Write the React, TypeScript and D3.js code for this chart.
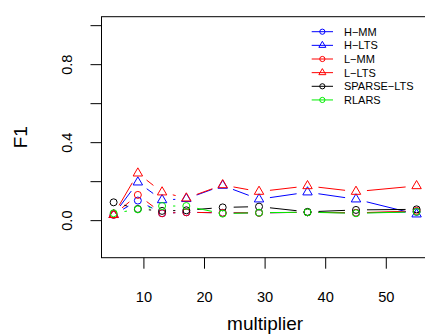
import React from "react";
import * as d3 from "d3";

const multipliers = [5, 9, 13, 17, 23, 29, 37, 45, 55];
const seriesNames = ["H-MM", "H-LTS", "L-MM", "L-LTS", "SPARSE-LTS", "RLARS"];
const seriesColors = ["#0000FF", "#0000FF", "#FF0000", "#FF0000", "#000000", "#00EE00"];
const seriesShapes = ["circle", "triangle", "circle", "triangle", "circle", "circle"];
const hMM = [0.03, 0.103, 0.038, 0.043, 0.04, 0.04, 0.043, 0.04, 0.045];
const hLTS = [0.03, 0.197, 0.106, 0.112, 0.18, 0.11, 0.146, 0.11, 0.033];
const lMM = [0.03, 0.132, 0.038, 0.043, 0.04, 0.04, 0.043, 0.04, 0.05];
const lLTS = [0.03, 0.243, 0.146, 0.115, 0.183, 0.149, 0.178, 0.149, 0.178];
const sparseLTS = [0.094, 0.06, 0.05, 0.053, 0.068, 0.072, 0.045, 0.055, 0.058];
const rlars = [0.038, 0.058, 0.075, 0.075, 0.036, 0.041, 0.043, 0.038, 0.045];
const seriesValues = [hMM, hLTS, lMM, lLTS, sparseLTS, rlars];

const xTicks = [10, 20, 30, 40, 50];
const yTicks = [0, 0.2, 0.4, 0.6, 0.8, 1.0];
const yTickLabels = [
  { v: 0, t: "0.0" },
  { v: 0.4, t: "0.4" },
  { v: 0.8, t: "0.8" },
];

const FONT = "'Liberation Sans', Arial, Helvetica, sans-serif";

const W = 425;
const H = 335;
const left = 101.5;
const right = 428.7;
const top = 16.7;
const bottom = 257.7;

const x = d3.scaleLinear().domain([3, 57]).range([left, right]);
const y = d3.scaleLinear().domain([-0.19, 1.046]).range([bottom, top]);

const R = 3.5;
const GAP = 11;

function Marker({ shape, cx, cy, r, color }: any) {
  if (shape === "circle") {
    return <circle cx={cx} cy={cy} r={r} fill="none" stroke={color} strokeWidth={1} />;
  }
  const tr = r * 1.555;
  const hw = r * 1.347;
  const yc = r * 0.7776;
  const pts = `${cx},${cy - tr} ${cx + hw},${cy + yc} ${cx - hw},${cy + yc}`;
  return <polygon points={pts} fill="none" stroke={color} strokeWidth={1} />;
}

function gappedSegments(vals: number[]) {
  const segs: { x1: number; y1: number; x2: number; y2: number }[] = [];
  for (let i = 0; i < vals.length - 1; i++) {
    const ax = x(multipliers[i]);
    const ay = y(vals[i]);
    const bx = x(multipliers[i + 1]);
    const by = y(vals[i + 1]);
    const dx = bx - ax;
    const dy = by - ay;
    const len = Math.sqrt(dx * dx + dy * dy);
    if (len <= 2 * GAP) continue;
    const ux = dx / len;
    const uy = dy / len;
    segs.push({ x1: ax + ux * GAP, y1: ay + uy * GAP, x2: bx - ux * GAP, y2: by - uy * GAP });
  }
  return segs;
}

export default function App() {
  const legendX1 = 311.7;
  const legendX2 = 333;
  const legendTextX = 344;
  const legendY0 = 31.7;
  const legendDY = 13.65;

  return (
    <svg
      width={W}
      height={H}
      style={{ position: "absolute", left: 0, top: 0, background: "#fff", overflow: "hidden" }}
    >
      <rect x={0} y={0} width={W} height={H} fill="#fff" />
      {/* series */}
      {seriesValues.map((vals, si) => (
        <g key={si}>
          {gappedSegments(vals).map((s, i) => (
            <line key={i} x1={s.x1} y1={s.y1} x2={s.x2} y2={s.y2} stroke={seriesColors[si]} strokeWidth={1} />
          ))}
          {vals.map((v, i) => (
            <Marker key={i} shape={seriesShapes[si]} cx={x(multipliers[i])} cy={y(v)} r={R} color={seriesColors[si]} />
          ))}
        </g>
      ))}
      {/* box */}
      <rect x={left} y={top} width={right - left} height={bottom - top} fill="none" stroke="#000" strokeWidth={1} />
      {/* x axis */}
      {xTicks.map((t) => (
        <g key={t}>
          <line x1={x(t)} x2={x(t)} y1={bottom} y2={bottom + 11} stroke="#000" strokeWidth={1} />
          <text x={x(t)} y={302} textAnchor="middle" fontFamily={FONT} fontSize={14.6} fill="#000">
            {t}
          </text>
        </g>
      ))}
      {/* y axis */}
      {yTicks.map((t) => (
        <line key={t} x1={left - 11} x2={left} y1={y(t)} y2={y(t)} stroke="#000" strokeWidth={1} />
      ))}
      {yTickLabels.map((d) => (
        <text
          key={d.t}
          transform={`translate(71.7,${y(d.v)}) rotate(-90)`}
          textAnchor="middle"
          fontFamily={FONT}
          fontSize={14.6}
          fill="#000"
        >
          {d.t}
        </text>
      ))}
      {/* axis titles */}
      <text x={(left + right) / 2} y={330} textAnchor="middle" fontFamily={FONT} fontSize={19} fill="#000">
        multiplier
      </text>
      <text
        transform={`translate(26.7,${(top + bottom) / 2}) rotate(-90)`}
        textAnchor="middle"
        fontFamily={FONT}
        fontSize={19}
        fill="#000"
      >
        F1
      </text>
      {/* legend */}
      {seriesNames.map((name, i) => {
        const ly = legendY0 + i * legendDY;
        return (
          <g key={name}>
            <line x1={legendX1} x2={legendX2} y1={ly} y2={ly} stroke={seriesColors[i]} strokeWidth={1} />
            <Marker shape={seriesShapes[i]} cx={(legendX1 + legendX2) / 2} cy={ly} r={2.6} color={seriesColors[i]} />
            <text x={legendTextX} y={ly} dy="0.36em" fontFamily={FONT} fontSize={11} fill="#000">
              {name.replace(/-/g, "\u2212")}
            </text>
          </g>
        );
      })}
    </svg>
  );
}
